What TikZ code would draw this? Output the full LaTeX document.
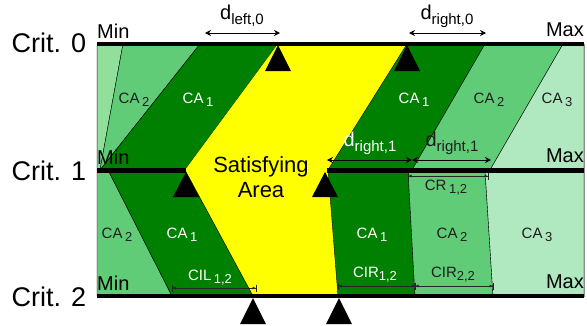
\documentclass[tikz,border=0pt]{standalone}
\usepackage{fontspec}
\setmainfont{Liberation Sans}
\usetikzlibrary{arrows.meta}
\definecolor{darkg}{RGB}{0,128,0}
\definecolor{medg}{RGB}{96,204,120}
\definecolor{lightg}{RGB}{176,232,192}
\definecolor{stripg}{RGB}{144,224,156}
\definecolor{satyel}{RGB}{255,255,0}
\definecolor{txtdark}{RGB}{30,30,30}
\newcommand\lowsub[2]{\fontsize{#1}{#1}\selectfont #2}
\newcommand\calbl[1]{CA\,\raisebox{-3pt}{\lowsub{13}{#1}}}
\newcommand\dlbl[1]{d\raisebox{-5pt}{\lowsub{15}{#1}}}
\newcommand\dimlbl[2]{#1\,\raisebox{-3pt}{\lowsub{13}{#2}}}
\tikzset{
  region/.style={draw=black, line width=0.4pt, line join=round},
  bar/.style={line width=4.5pt, line cap=butt},
  tri/.style={fill=black},
  ca/.style={font=\fontsize{15}{15}\selectfont, inner sep=0pt, text=txtdark},
  cawhite/.style={ca, text=white},
  dimarrow/.style={{Stealth[length=6pt,width=6pt]}-{Stealth[length=6pt,width=6pt]}, line width=0.8pt},
  dimline/.style={{Bar[width=7pt]Latex[length=3pt,width=3pt]}-{Latex[length=3pt,width=3pt]Bar[width=7pt]}, line width=0.5pt, draw=black!85},
  critlbl/.style={font=\fontsize{27}{27}\selectfont, inner sep=0pt},
  minmax/.style={font=\fontsize{20}{20}\selectfont, inner sep=0pt},
  dtext/.style={font=\fontsize{20}{20}\selectfont, inner sep=0pt},
  sattext/.style={font=\fontsize{22}{25}\selectfont, align=center, inner sep=0pt}
}
\begin{document}
\begin{tikzpicture}[x=1pt, y=-1pt]
\useasboundingbox (0,0) rectangle (587,325);
% ---- top band regions ----
\fill[white] (0,0) rectangle (587,325);
\filldraw[region, fill=stripg] (97,44) -- (123,44) -- (100,170) -- (97,170) -- cycle;
\filldraw[region, fill=medg] (123,44) -- (200,44) -- (100,170) -- cycle;
\filldraw[region, fill=darkg] (200,44) -- (278,44) -- (185,170) -- (100,170) -- cycle;
\fill[satyel] (278,44) -- (407,44) -- (328,170) -- (338,296) -- (253,296) -- (185,170) -- cycle;
\filldraw[region, fill=darkg] (407,44) -- (485,44) -- (412,170) -- (328,170) -- cycle;
\filldraw[region, fill=medg] (485,44) -- (563,44) -- (490,170) -- (412,170) -- cycle;
\filldraw[region, fill=lightg] (563,44) -- (584,44) -- (584,170) -- (490,170) -- cycle;
% ---- lower band regions ----
\filldraw[region, fill=medg] (97,170) -- (108,170) -- (172,296) -- (97,296) -- cycle;
\filldraw[region, fill=darkg] (108,170) -- (185,170) -- (253,296) -- (172,296) -- cycle;
\filldraw[region, fill=darkg] (328,170) -- (408,170) -- (415,296) -- (338,296) -- cycle;
\filldraw[region, fill=medg] (408,170) -- (485,170) -- (493,296) -- (415,296) -- cycle;
\filldraw[region, fill=lightg] (485,170) -- (584,170) -- (584,296) -- (493,296) -- cycle;
\draw[black!45, line width=0.6pt] (97,44) rectangle (584,296);
% ---- bars ----
\draw[bar] (97,44) -- (584,44);
\draw[bar] (97,170.5) -- (186,170.5);
\draw[bar] (327,170.5) -- (584,170.5);
\draw[bar] (97,296) -- (584,296);
% ---- triangles ----
\fill[tri] (278,45) -- (291,71) -- (265,71) -- cycle;
\fill[tri] (407,45) -- (420,71) -- (394,71) -- cycle;
\fill[tri] (186,172) -- (199,197) -- (173,197) -- cycle;
\fill[tri] (325,172) -- (338,197) -- (312,197) -- cycle;
\fill[tri] (253,298) -- (266,324) -- (240,324) -- cycle;
\fill[tri] (339,298) -- (352,324) -- (326,324) -- cycle;
% ---- criterion labels ----
\node[critlbl] (c0) at (49,43) {Crit. 0};
\node[critlbl] (c1) at (49,171) {Crit. 1};
\node[critlbl] (c2) at (49,297) {Crit. 2};
\node[minmax, anchor=west] (min0) at (97,31) {Min};
\node[minmax, anchor=west] (min1) at (97,157) {Min};
\node[minmax, anchor=west] (min2) at (97,283) {Min};
\node[minmax, anchor=east] (max0) at (584,30) {Max};
\node[minmax, anchor=east] (max1) at (584,156) {Max};
\node[minmax, anchor=east] (max2) at (584,282) {Max};
% ---- CA labels ----
\node[ca] (tca2l) at (134,100) {\calbl{2}};
\node[cawhite] (tca1l) at (198,100) {\calbl{1}};
\node[cawhite] (tca1r) at (414,100) {\calbl{1}};
\node[ca] (tca2r) at (489,100) {\calbl{2}};
\node[ca] (tca3r) at (557,100) {\calbl{3}};
\node[ca] (bca2l) at (117,235) {\calbl{2}};
\node[cawhite] (bca1l) at (182,235) {\calbl{1}};
\node[cawhite] (bca1r) at (372,235) {\calbl{1}};
\node[ca] (bca2r) at (452,235) {\calbl{2}};
\node[ca] (bca3r) at (537,235) {\calbl{3}};
% ---- satisfying area ----
\node[sattext] (sat) at (261,177) {Satisfying\\Area};
% ---- d arrows ----
\coordinate (dl0a) at (205,33); \coordinate (dl0b) at (280,33);
\coordinate (dr0a) at (409,33); \coordinate (dr0b) at (486,33);
\coordinate (dr1a) at (327,160); \coordinate (dr1b) at (412,160);
\coordinate (dr1c) at (491,160);
\draw[dimarrow] (dl0a) -- (dl0b);
\draw[dimarrow] (dr0a) -- (dr0b);
\draw[dimarrow] (dr1a) -- (dr1b);
\draw[dimarrow] (dr1b) -- (dr1c);
\node[dtext] (dl0) at (242,16) {\dlbl{left,0}};
\node[dtext] (dr0) at (447,16) {\dlbl{right,0}};
\node[dtext, text=white] (dr1) at (370,143) {\dlbl{right,1}};
\node[dtext, text=txtdark] (dr1r) at (452,143) {\dlbl{right,1}};
% ---- dimension lines ----
\coordinate (cra) at (408,176); \coordinate (crb) at (488,176);
\coordinate (cila) at (172,288); \coordinate (cilb) at (256,288);
\coordinate (cira) at (338,286); \coordinate (cirb) at (415,286);
\coordinate (circ) at (493,286);
\draw[dimline] (cra) -- (crb);
\draw[dimline] (cila) -- (cilb);
\draw[dimline] (cira) -- (cirb);
\draw[dimline] (cirb) -- (circ);
\node[ca] (cr12) at (446,188) {\dimlbl{CR}{1,2}};
\node[cawhite] (cil12) at (210,278) {\dimlbl{CIL}{1,2}};
\node[cawhite] (cir12) at (375,275) {CIR\raisebox{-3pt}{\lowsub{13}{1,2}}};
\node[ca] (cir22) at (453,275) {CIR\raisebox{-3pt}{\lowsub{13}{2,2}}};
\end{tikzpicture}
\end{document}
